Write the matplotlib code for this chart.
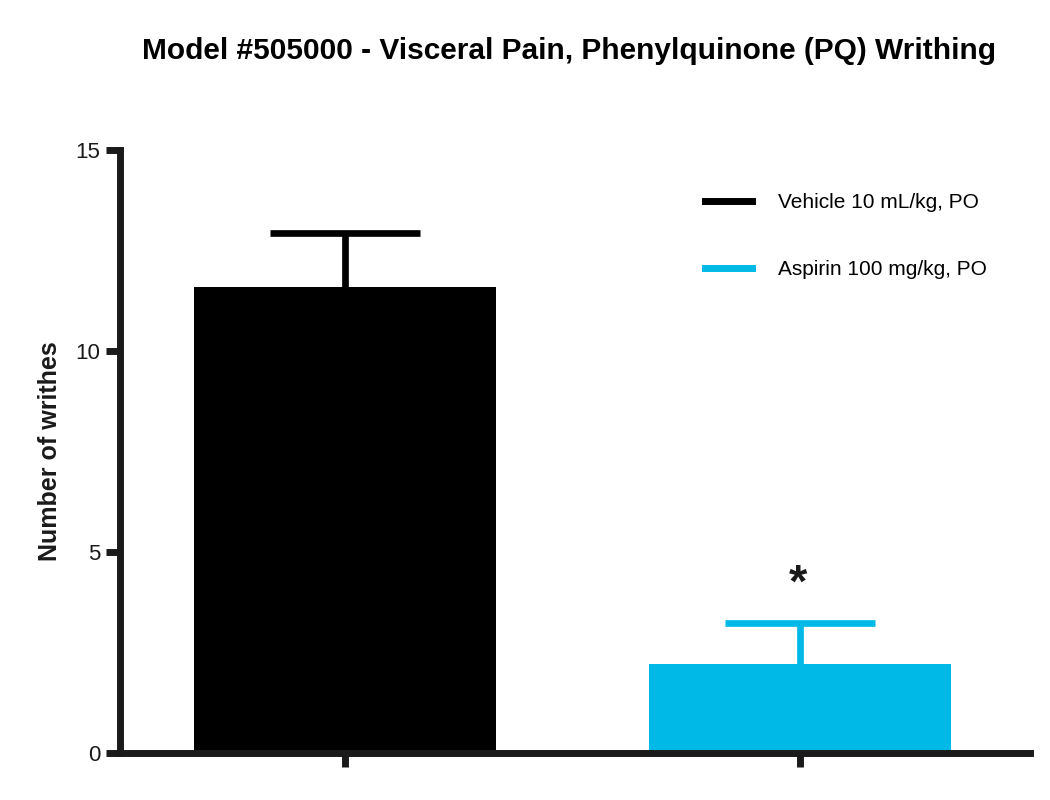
import matplotlib
matplotlib.use("Agg")
import matplotlib.pyplot as plt
from matplotlib.lines import Line2D

plt.rcParams['font.family'] = ['Liberation Sans', 'DejaVu Sans']

groups = ['Vehicle 10 mL/kg, PO', 'Aspirin 100 mg/kg, PO']
means = [11.6, 2.2]
sems = [1.33, 1.03]
colors = ['#000000', '#00b9e6']
y_ticks = [0, 5, 10, 15]

fig = plt.figure(figsize=(10.5, 8), dpi=100)
ax = fig.add_axes([0.1143, 0.059, 0.8667, 0.7535])

x = [0, 1]
for i in range(len(groups)):
    ax.bar(x[i], means[i], width=0.665, color=colors[i], zorder=2)
    eb = ax.errorbar(x[i], means[i], yerr=[[0], [sems[i]]], fmt='none',
                     ecolor=colors[i], elinewidth=4.8, capsize=54, capthick=4.8,
                     zorder=3)
    # only the upper cap is shown
    for cap in eb[1]:
        if cap.get_ydata()[0] <= means[i]:
            cap.set_visible(False)

# significance marker
ax.text(x[1] - 0.005, means[1] + sems[1] + 0.4, '*', ha='center', va='bottom',
        fontsize=34, fontweight='bold', color='#1a1a1a')

ax.set_xlim(-0.4945, 1.5055)
ax.set_ylim(0, 15)
ax.set_yticks(y_ticks)
ax.set_xticks(x)
ax.set_xticklabels(['', ''])

for side in ['top', 'right']:
    ax.spines[side].set_visible(False)
for side in ['left', 'bottom']:
    ax.spines[side].set_linewidth(5)
    ax.spines[side].set_color('#1a1a1a')
ax.tick_params(axis='both', width=5, length=10, color='#1a1a1a',
               labelsize=16, pad=4, labelcolor='#1a1a1a')

ax.set_ylabel('Number of writhes', fontsize=18, fontweight='bold',
              labelpad=10, color='#1a1a1a')
fig.suptitle('Model #505000 - Visceral Pain, Phenylquinone (PQ) Writhing',
             fontsize=21.5, fontweight='bold', x=0.542, y=0.954)

handles = [Line2D([0], [0], color=c, linewidth=5) for c in colors]
ax.legend(handles, groups, loc='upper left', bbox_to_anchor=(0.643, 0.928),
          borderaxespad=0, borderpad=0, frameon=False, fontsize=15,
          handlelength=2.26, handletextpad=1.25, labelspacing=2.3)

fig.savefig('out.png', dpi=100)
